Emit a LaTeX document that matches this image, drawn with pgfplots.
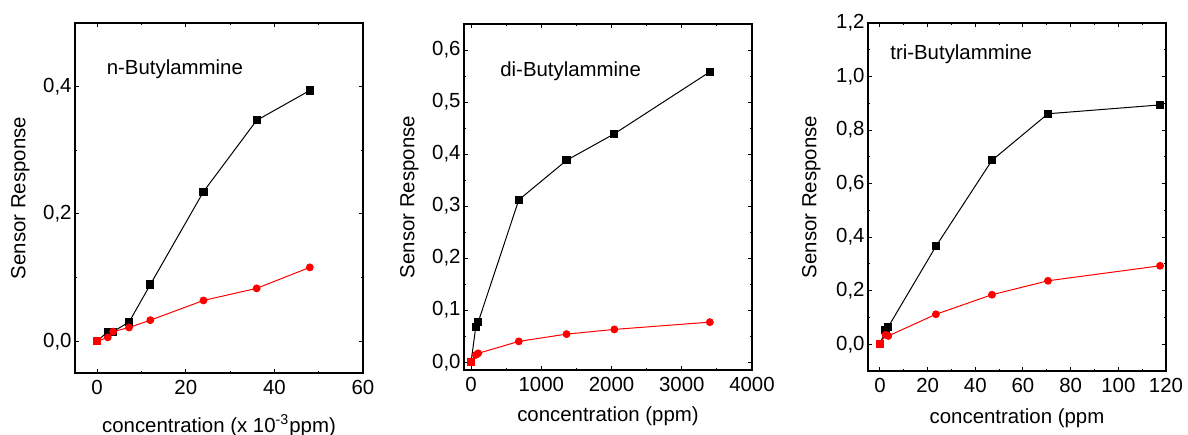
\documentclass[border=0pt]{standalone}
\usepackage{fontspec}
\setmainfont{Liberation Sans}
\usepackage{pgfplots}
\pgfplotsset{compat=1.18}

\pgfplotsset{
  panel/.style={
    scale only axis,
    axis line style={line width=0.6pt},
    tick align=inside,
    major tick length=2.2pt, minor tick length=1.2pt,
    minor tick num=1,
    every tick/.style={black, line width=0.5pt},
    font=\fontsize{10.2}{12}\selectfont,
    /pgf/number format/assume math mode=true,
    xticklabel style={/pgf/number format/1000 sep={}},
    yticklabel style={xshift=1.8pt, /pgf/number format/.cd, fixed, fixed zerofill, precision=1, use comma},
    ylabel style={at={(axis description cs:-0.19,0.5)}, anchor=center},
    clip=false,
  },
  blk/.style={black, line width=0.5pt, mark=square*, mark size=1.8pt},
  rd/.style={red, line width=0.5pt, mark=*, mark size=1.7pt},
  rd0/.style={red, only marks, mark=square*, mark size=1.8pt},
}

\begin{document}
\begin{tikzpicture}
\useasboundingbox (0,0) rectangle (594pt,217pt);

% n-Butylammine
\begin{axis}[panel,
  at={(37.5pt,30.5pt)}, anchor=south west,
  width=144pt, height=175pt,
  xmin=-5, xmax=60, ymin=-0.05, ymax=0.5,
  xtick={0,20,40,60}, ytick={0,0.2,0.4},
  xlabel={concentration (x 10\textsuperscript{-3}ppm)},
  xlabel style={at={(axis description cs:0.5,-0.169)}, anchor=base},
  ylabel={Sensor Response},
]
\addplot[blk] coordinates {(0,0)(2.4,0.015)(3.6,0.015)(7.2,0.030)(12,0.089)(24,0.235)(36,0.347)(48,0.394)};
\addplot[rd] coordinates {(0,0)(2.4,0.006)(3.6,0.015)(7.2,0.0215)(12,0.033)(24,0.064)(36,0.083)(48,0.116)};
\addplot[rd0] coordinates {(0,0)};
\node[anchor=west, inner sep=0pt] at (axis cs:2.1,0.428) {n-Butylammine};
\end{axis}

% di-Butylammine
\begin{axis}[panel,
  at={(232pt,32pt)}, anchor=south west,
  width=144pt, height=173pt,
  xmin=-100, xmax=4000, ymin=-0.015, ymax=0.65,
  xtick={0,1000,2000,3000,4000}, ytick={0,0.1,0.2,0.3,0.4,0.5,0.6},
  xlabel={concentration (ppm)},
  xlabel style={at={(axis description cs:0.5,-0.149)}, anchor=base},
  ylabel={Sensor Response},
]
\addplot[blk] coordinates {(0,0)(68,0.068)(102,0.077)(680,0.312)(1360,0.388)(2040,0.439)(3400,0.558)};
\addplot[rd] coordinates {(0,0)(68,0.014)(102,0.017)(680,0.040)(1360,0.054)(2040,0.063)(3400,0.077)};
\addplot[rd0] coordinates {(0,0)};
\node[anchor=west, inner sep=0pt] at (axis cs:412,0.56) {di-Butylammine};
\end{axis}

% tri-Butylammine
\begin{axis}[panel,
  at={(434pt,31.5pt)}, anchor=south west,
  width=149pt, height=174pt,
  xmin=-5, xmax=120, ymin=-0.1, ymax=1.2,
  xtick={0,20,40,60,80,100,120}, ytick={0,0.2,0.4,0.6,0.8,1.0,1.2},
  xlabel={concentration (ppm},
  xlabel style={at={(axis description cs:0.5,-0.152)}, anchor=base},
  ylabel={Sensor Response},
]
\addplot[blk] coordinates {(0,0)(2.35,0.052)(3.5,0.065)(23.5,0.366)(47,0.687)(70.5,0.861)(117.5,0.894)};
\addplot[rd] coordinates {(0,0)(2.35,0.035)(3.5,0.031)(23.5,0.112)(47,0.185)(70.5,0.237)(117.5,0.293)};
\addplot[rd0] coordinates {(0,0)};
\node[anchor=west, inner sep=0pt] at (axis cs:4.2,1.085) {tri-Butylammine};
\end{axis}
\end{tikzpicture}
\end{document}
